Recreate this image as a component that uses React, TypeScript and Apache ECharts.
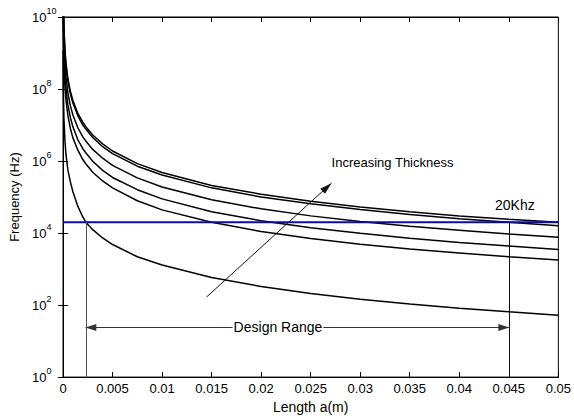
import React, { useEffect, useRef } from "react";
import * as echarts from "echarts";

// Length a (m) sample points shared by all curves
const lengths = [0.00001, 0.00002, 0.00005, 0.0001, 0.0002, 0.0003, 0.0005, 0.00075, 0.001, 0.0015, 0.002, 0.0023, 0.003, 0.004, 0.005, 0.0075, 0.01, 0.015, 0.02, 0.025, 0.03, 0.035, 0.04, 0.045, 0.05];

// Frequency (Hz) curves, thickest to thinnest
const curve1 = [4.8e11, 1.2e11, 1.9e10, 4.8e9, 1.2e9, 5.3e8, 1.9e8, 8.5e7, 4.8e7, 2.1e7, 1.2e7, 9.0e6, 5.3e6, 3.0e6, 1.9e6, 8.5e5, 4.8e5, 2.1e5, 1.2e5, 7.6e4, 5.3e4, 3.9e4, 3.0e4, 2.4e4, 2.0e4];
const curve2 = [4.1e11, 1.0e11, 1.6e10, 4.1e9, 1.0e9, 4.5e8, 1.6e8, 7.2e7, 4.1e7, 1.8e7, 1.0e7, 7.7e6, 4.5e6, 2.5e6, 1.6e6, 7.2e5, 4.1e5, 1.8e5, 1.0e5, 6.5e4, 4.5e4, 3.3e4, 2.5e4, 2.0e4, 1.6e4];
const curve3 = [1.9e11, 4.7e10, 7.6e9, 1.9e9, 4.7e8, 2.1e8, 7.6e7, 3.4e7, 1.9e7, 8.4e6, 4.7e6, 3.6e6, 2.1e6, 1.2e6, 7.6e5, 3.4e5, 1.9e5, 8.4e4, 4.7e4, 3.0e4, 2.1e4, 1.55e4, 1.2e4, 9.4e3, 7.6e3];
const curve4 = [8.9e10, 2.2e10, 3.5e9, 8.9e8, 2.2e8, 9.9e7, 3.5e7, 1.6e7, 8.9e6, 3.9e6, 2.2e6, 1.7e6, 9.9e5, 5.5e5, 3.5e5, 1.6e5, 8.9e4, 3.9e4, 2.2e4, 1.4e4, 9.9e3, 7.2e3, 5.5e3, 4.4e3, 3.5e3];
const curve5 = [4.4e10, 1.1e10, 1.8e9, 4.4e8, 1.1e8, 4.9e7, 1.8e7, 7.9e6, 4.4e6, 2.0e6, 1.1e6, 8.4e5, 4.9e5, 2.8e5, 1.8e5, 7.9e4, 4.4e4, 2.0e4, 1.1e4, 7.1e3, 4.9e3, 3.6e3, 2.8e3, 2.2e3, 1.8e3];
const curve6 = [1.2e9, 3.2e8, 5.5e7, 1.4e7, 3.5e6, 1.5e6, 5.5e5, 2.6e5, 1.4e5, 5.5e4, 2.8e4, 2.0e4, 1.24e4, 7.3e3, 4.8e3, 2.2e3, 1.3e3, 580, 330, 210, 146, 107, 82, 65, 52];
const curves = [curve1, curve2, curve3, curve4, curve5, curve6];

// 20 kHz limit line
const limitFreq = 20000;
const limitRange = [0, 0.05];

// Design range bounds
const designMin = 0.0023;
const designMax = 0.045;
const designArrowFreq = 24;
const axisMinFreq = 1;

// Increasing thickness arrow (tail, head)
const thickArrowFrom = [0.0145, 168];
const thickArrowTo = [0.0271, 2.43e5];

// Text annotations
const textThickness = { text: "Increasing Thickness", coord: [0.02706, 9.1e5] };
const text20k = { text: "20Khz", coord: [0.04356, 6.1e4] };
const textDesign = { text: "Design Range", coord: [0.0217, 24] };

const FONT = "'Liberation Sans', Arial, Helvetica, sans-serif";

export default function App() {
  const ref = useRef<HTMLDivElement>(null);

  useEffect(() => {
    if (!ref.current) return;
    document.body.style.margin = "0";
    const chart = echarts.init(ref.current, undefined, { renderer: "svg" });

    const curveSeries = curves.map((c, k) => ({
      type: "line",
      name: "c" + k,
      data: lengths.map((a, i) => [a, c[i]]),
      showSymbol: false,
      symbol: "none",
      clip: true,
      lineStyle: { color: "#000", width: 1.5 },
      z: 3,
    }));

    const thinLine = (color: string) => ({ color, width: 1, type: "solid" });

    const option: any = {
      animation: false,
      backgroundColor: "#fff",
      grid: {
        left: 63,
        right: 14,
        top: 17,
        bottom: 38,
        show: true,
        borderColor: "#000",
        borderWidth: 1,
      },
      xAxis: [
        {
          type: "value",
          min: 0,
          max: 0.05,
          interval: 0.005,
          position: "bottom",
          name: "Length a(m)",
          nameLocation: "middle",
          nameGap: 19,
          nameTextStyle: { color: "#000", fontSize: 14, fontFamily: FONT },
          axisLine: { show: true, lineStyle: { color: "#000", width: 1 } },
          axisTick: { show: true, inside: true, length: 5, lineStyle: { color: "#000" } },
          splitLine: { show: false },
          axisLabel: {
            color: "#000",
            fontSize: 13,
            fontFamily: FONT,
            margin: 5,
            formatter: (v: number) => String(parseFloat(v.toFixed(4))),
          },
        },
        {
          type: "value",
          min: 0,
          max: 0.05,
          interval: 0.005,
          position: "top",
          axisLine: { show: true, lineStyle: { color: "#000", width: 1 } },
          axisTick: { show: true, inside: true, length: 5, lineStyle: { color: "#000" } },
          splitLine: { show: false },
          axisLabel: { show: false },
        },
      ],
      yAxis: [
        {
          type: "log",
          logBase: 10,
          min: 1,
          max: 1e10,
          interval: 2,
          position: "left",
          name: "Frequency (Hz)",
          nameLocation: "middle",
          nameGap: 39,
          nameRotate: 90,
          nameTextStyle: { color: "#000", fontSize: 13, fontFamily: FONT },
          axisLine: { show: true, lineStyle: { color: "#000", width: 1 } },
          axisTick: { show: true, inside: true, length: 5, lineStyle: { color: "#000" } },
          splitLine: { show: false },
          minorTick: { show: false },
          axisLabel: {
            align: "left",
            margin: 31,
            formatter: (v: number) => {
              const e = Math.round(Math.log10(v));
              return "{b|10}{e|" + e + "}";
            },
            rich: {
              b: { fontSize: 13, fontFamily: FONT, color: "#000", lineHeight: 13, verticalAlign: "bottom" },
              e: { fontSize: 9, fontFamily: FONT, color: "#000", lineHeight: 9, verticalAlign: "bottom", padding: [0, 0, 8, 0] },
            },
          },
        },
        {
          type: "log",
          logBase: 10,
          min: 1,
          max: 1e10,
          interval: 2,
          position: "right",
          axisLine: { show: true, lineStyle: { color: "#000", width: 1 } },
          axisTick: { show: true, inside: true, length: 5, lineStyle: { color: "#000" } },
          splitLine: { show: false },
          axisLabel: { show: false },
        },
      ],
      series: [
        ...curveSeries,
        {
          type: "line",
          name: "limit",
          data: limitRange.map((a) => [a, limitFreq]),
          showSymbol: false,
          symbol: "none",
          lineStyle: { color: "#0a0aa8", width: 2 },
          z: 4,
          markLine: {
            silent: true,
            animation: false,
            label: { show: false },
            symbol: ["none", "none"],
            data: [
              [
                { coord: [designMin, axisMinFreq], lineStyle: thinLine("#555") },
                { coord: [designMin, limitFreq] },
              ],
              [
                { coord: [designMax, axisMinFreq], lineStyle: thinLine("#111") },
                { coord: [designMax, limitFreq] },
              ],
              [
                { coord: [designMin, designArrowFreq], symbol: "triangle", symbolSize: [7, 11], symbolOffset: [0, 5], lineStyle: thinLine("#333") },
                { coord: [designMax, designArrowFreq], symbol: "triangle", symbolSize: [7, 11], symbolOffset: [0, 5] },
              ],
              [
                { coord: thickArrowFrom, symbol: "none", lineStyle: thinLine("#111") },
                { coord: thickArrowTo, symbol: "triangle", symbolSize: [7, 12], symbolOffset: [0, 6] },
              ],
            ],
          },
          markPoint: {
            silent: true,
            animation: false,
            symbol: "rect",
            symbolSize: 1,
            itemStyle: { color: "rgba(0,0,0,0)" },
            data: [
              {
                coord: textThickness.coord,
                value: textThickness.text,
                label: { show: true, position: "right", distance: 0, formatter: textThickness.text, color: "#000", fontSize: 13, fontFamily: FONT },
              },
              {
                coord: text20k.coord,
                value: text20k.text,
                label: { show: true, position: "right", distance: 0, formatter: text20k.text, color: "#000", fontSize: 14, fontFamily: FONT },
              },
              {
                coord: textDesign.coord,
                value: textDesign.text,
                label: { show: true, position: "inside", formatter: textDesign.text, color: "#000", fontSize: 14, fontFamily: FONT, backgroundColor: "#fff", padding: [1, 1] },
              },
            ],
          },
        },
      ],
    };

    chart.setOption(option);
    return () => chart.dispose();
  }, []);

  return (
    <div
      ref={ref}
      style={{ position: "fixed", left: 0, top: 0, width: 574, height: 419, background: "#fff" }}
    />
  );
}
